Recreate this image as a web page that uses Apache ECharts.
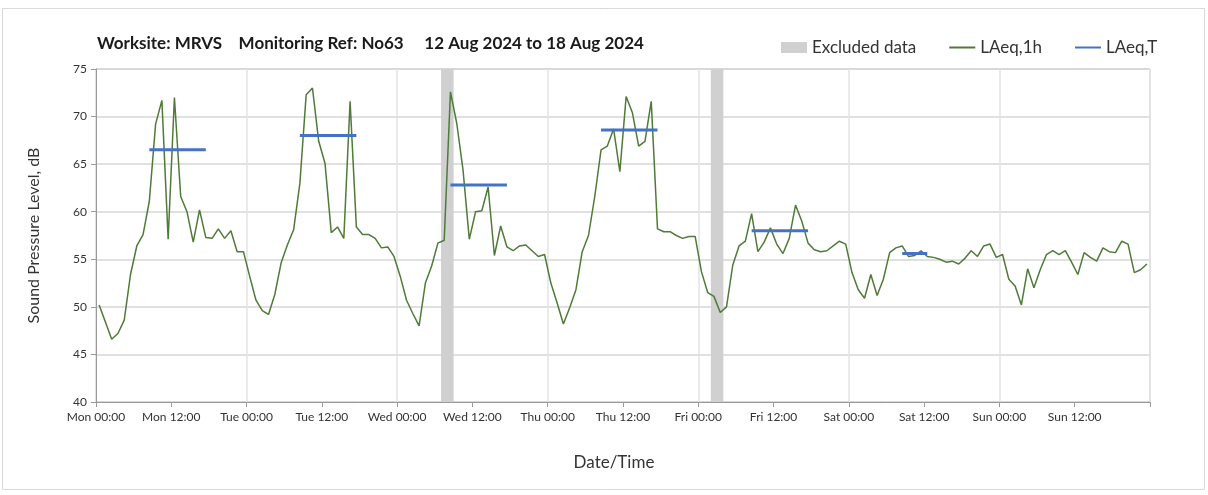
<!DOCTYPE html>
<html>
<head>
<meta charset="utf-8">
<script src="https://cdn.jsdelivr.net/npm/echarts@6/dist/echarts.min.js"></script>
<style>
html,body{margin:0;padding:0;background:#fff;}
#chart{width:1208px;height:495px;}
</style>
</head>
<body>
<div id="chart"></div>
<script>
// Hours from Mon 00:00; hourly LAeq,1h points at mid-hour
const dayNames = ['Mon','Tue','Wed','Thu','Fri','Sat','Sun','Mon'];
const laeq1h = [
  50.2,48.4,46.6,47.2,48.6,53.4,56.4,57.6,61.1,69.2,71.7,57.1,72.0,61.6,60.0,56.8,60.2,57.3,57.2,58.2,57.2,58.0,55.8,55.8,
  53.2,50.7,49.6,49.2,51.3,54.6,56.5,58.1,63.0,72.3,73.0,67.4,65.1,57.8,58.4,57.2,71.6,58.4,57.6,57.6,57.2,56.2,56.3,55.3,
  53.2,50.7,49.3,48.0,52.5,54.3,56.7,57.0,72.6,69.3,64.4,57.1,60.0,60.1,62.6,55.4,58.5,56.3,55.9,56.4,56.5,55.9,55.3,55.5,
  52.5,50.4,48.2,49.9,51.8,55.8,57.5,61.6,66.5,66.9,68.7,64.2,72.1,70.4,66.9,67.4,71.6,58.2,57.9,57.9,57.5,57.2,57.4,57.4,
  53.7,51.5,51.1,49.4,50.0,54.4,56.4,56.9,59.8,55.8,56.8,58.3,56.6,55.6,57.2,60.7,59.0,56.7,56.0,55.8,55.9,56.4,56.9,56.6,
  53.6,51.8,50.9,53.4,51.2,52.9,55.7,56.2,56.4,55.3,55.4,55.9,55.3,55.2,55.0,54.7,54.8,54.5,55.1,55.9,55.3,56.4,56.6,55.2,
  55.5,52.9,52.2,50.2,54.0,52.0,53.9,55.5,55.9,55.5,55.9,54.7,53.4,55.7,55.2,54.8,56.2,55.8,55.7,56.9,56.6,53.6,53.9,54.5
];
const laeqTStart = [8.5, 32.5, 56.5, 80.5, 104.5, 128.5];
const laeqTEnd   = [17.5, 41.5, 65.5, 89.5, 113.5, 132.5];
const laeqTValue = [66.5, 68.0, 62.8, 68.6, 58.0, 55.6];
const excludedStart = [55, 98];
const excludedEnd   = [57, 100];
const yTicks = [40,45,50,55,60,65,70,75];

const green = '#4f7a38';
const blue = '#4472c4';
const grey = '#d0d0d0';
const font = 'Lato, "Open Sans", sans-serif';

const lineData = laeq1h.map((v,i)=>[i+0.5, v]);
const tSeries = laeqTStart.map((s,k)=>({
  name:'LAeq,T', type:'line', symbol:'none', silent:true, z:4,
  lineStyle:{color:blue, width:3}, itemStyle:{color:blue},
  data:[[s,laeqTValue[k]],[laeqTEnd[k],laeqTValue[k]]]
}));

const chart = echarts.init(document.getElementById('chart'), null, {renderer:'canvas'});
chart.setOption({
  animation:false,
  backgroundColor:'#fff',
  textStyle:{fontFamily:font},
  title:{
    text:'Worksite: MRVS    Monitoring Ref: No63     12 Aug 2024 to 18 Aug 2024',
    left:92, top:30,
    textStyle:{fontSize:17, fontWeight:'bold', color:'#1a1a1a', fontFamily:font}
  },
  legend:{
    left:776, top:34, itemWidth:26, itemHeight:11, itemGap:32,
    textStyle:{fontSize:17, color:'#333', fontFamily:font},
    data:[
      {name:'Excluded data', icon:'rect'},
      {name:'LAeq,1h', itemStyle:{opacity:0}},
      {name:'LAeq,T', itemStyle:{opacity:0}}
    ]
  },
  graphic:[{
    type:'rect', silent:true, z:-10,
    shape:{x:2.5, y:8.5, width:1202, height:481},
    style:{fill:'none', stroke:'#d9d9d9', lineWidth:1}
  }],
  grid:{left:96, right:58, top:69, bottom:93, show:true, borderColor:'#bfbfbf', borderWidth:1},
  xAxis:[{
    type:'value', min:0, max:168, interval:12,
    name:'Date/Time', nameLocation:'middle', nameGap:52,
    nameTextStyle:{fontSize:17, color:'#333', fontFamily:font, padding:[0,18,0,0]},
    axisLine:{show:true, lineStyle:{color:'#999'}},
    axisTick:{show:true, inside:false, length:5, lineStyle:{color:'#999'}},
    axisLabel:{fontSize:12, color:'#333', margin:9, fontFamily:font,
      formatter:(v)=> v>=168 ? '' : dayNames[Math.floor(v/24)] + (v%24===0 ? ' 00:00' : ' 12:00')},
    splitLine:{show:false}
  },{
    type:'value', min:0, max:168, interval:24, position:'bottom',
    axisLine:{show:false}, axisTick:{show:false}, axisLabel:{show:false},
    splitLine:{show:true, lineStyle:{color:'#e3e3e3', width:1.5}}
  }],
  yAxis:{
    type:'value', min:yTicks[0], max:yTicks[yTicks.length-1], interval:5,
    name:'Sound Pressure Level, dB', nameLocation:'middle', nameGap:54,
    nameTextStyle:{fontSize:16, color:'#333', fontFamily:font},
    axisLine:{show:true, lineStyle:{color:'#999'}},
    axisTick:{show:true, length:5, lineStyle:{color:'#999'}},
    axisLabel:{fontSize:12, color:'#333', margin:9, fontFamily:font},
    splitLine:{show:true, lineStyle:{color:'#d6d6d6', width:1.5}}
  },
  series:[
    {
      name:'Excluded data', type:'line', data:[], symbol:'none', z:1,
      itemStyle:{color:grey}, lineStyle:{color:grey},
      markArea:{silent:true, itemStyle:{color:grey, opacity:1},
        data: excludedStart.map((s,k)=>[{xAxis:s},{xAxis:excludedEnd[k]}])}
    },
    {
      name:'LAeq,1h', type:'line', symbol:'none', z:3, silent:true,
      lineStyle:{color:green, width:1.5}, itemStyle:{color:green},
      data: lineData
    },
    ...tSeries
  ]
});
</script>
</body>
</html>
